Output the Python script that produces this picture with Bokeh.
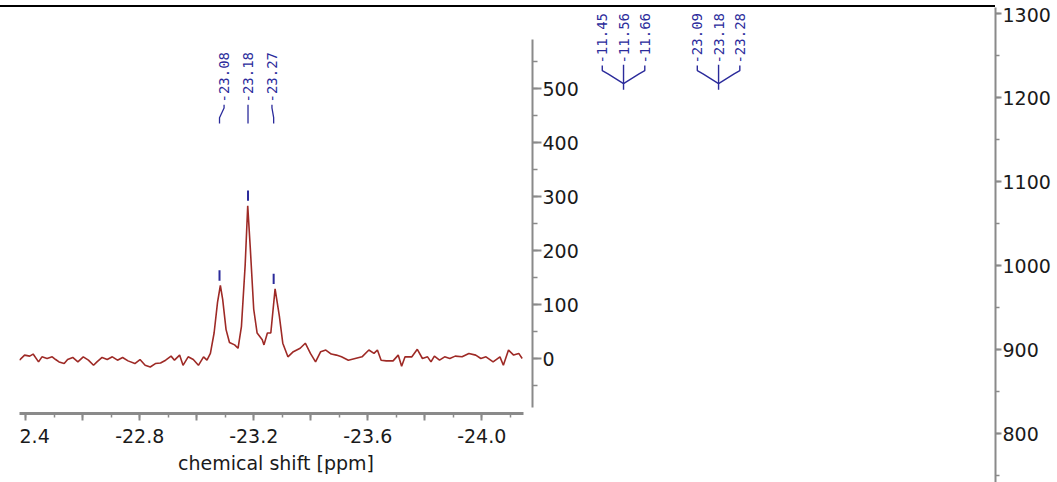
import numpy as np
from bokeh.plotting import figure
from bokeh.models import (Range1d, SingleIntervalTicker, CustomJSTickFormatter,
                          Div, Spacer)
from bokeh.layouts import row, column
from bokeh.core.properties import value
from bokeh.embed import file_html
from bokeh.resources import INLINE

# ---------------- data ----------------
ppm = [-22.378, -22.396, -22.414, -22.426, -22.445, -22.457, -22.475, -22.493,
       -22.505, -22.517, -22.535, -22.547, -22.565, -22.583, -22.602, -22.620,
       -22.638, -22.650, -22.668, -22.686, -22.704, -22.722, -22.740, -22.759,
       -22.783, -22.801, -22.819, -22.837, -22.855, -22.873, -22.891, -22.910,
       -22.922, -22.940, -22.952, -22.970, -22.988, -23.006, -23.024, -23.036,
       -23.048, -23.061, -23.073, -23.083, -23.091, -23.103, -23.115, -23.133,
       -23.145, -23.157, -23.170, -23.179, -23.188, -23.200, -23.212, -23.230,
       -23.236, -23.248, -23.260, -23.275, -23.290, -23.302, -23.320, -23.339,
       -23.363, -23.381, -23.399, -23.417, -23.435, -23.453, -23.472, -23.490,
       -23.508, -23.532, -23.556, -23.580, -23.604, -23.622, -23.634, -23.647,
       -23.665, -23.689, -23.707, -23.719, -23.731, -23.755, -23.774, -23.792,
       -23.810, -23.822, -23.834, -23.852, -23.870, -23.888, -23.907, -23.931,
       -23.955, -23.979, -23.997, -24.015, -24.040, -24.064, -24.076, -24.094,
       -24.112, -24.130, -24.142]
intensity = [-3.1, 6.3, 4.4, 8.2, -6.3, 3.1, 0.0, 3.1,
             -1.9, -6.3, -9.4, -1.9, 1.9, -6.3, 3.1, -3.1,
             -12.6, -6.3, 1.9, -1.9, 3.1, -3.1, 1.9, -4.4,
             -9.4, -1.9, -12.6, -15.7, -9.4, -8.2, -3.1, 4.4,
             -3.1, 6.3, -12.6, 3.1, -1.9, -12.6, 3.1, -3.1,
             9.4, 47.2, 103.8, 135.2, 110.1, 53.5, 29.6, 25.2,
             18.9, 59.7, 172.9, 283.0, 204.4, 91.2, 47.2, 34.6,
             25.2, 47.2, 47.2, 128.9, 78.6, 28.3, 3.1, 12.6,
             18.9, 28.3, 9.4, -6.3, 12.6, 15.7, 8.2, 6.3,
             3.1, -3.1, 0.0, 3.1, 15.7, 9.4, 15.7, -3.1,
             -4.4, -4.4, 6.3, -14.5, 3.1, 3.1, 17.0, 0.0,
             3.1, -6.3, 4.4, -3.1, 3.1, 0.0, 4.4, 3.1,
             9.4, 6.3, 0.0, 3.1, -6.3, 3.1, -12.6, 15.7,
             6.3, 9.4, 0.0]

peak_ppm = [-23.08, -23.18, -23.27]
peak_int = [135.2, 283.0, 128.9]
peak_labels = ["-23.08", "-23.18", "-23.27"]

mult_centers = [-11.56, -23.18]
mult_labels = [["-11.45", "-11.56", "-11.66"],
               ["-23.09", "-23.18", "-23.28"]]

# ---------------- styles ----------------
TRACE = "#9e2a26"
BLUE = "#2b2b9b"
AX = "#8a8a8a"
TXT = "#1a1a1a"
FONT = "DejaVu Sans"
LFONT = "DejaVu Sans Mono"
TICK_SIZE = "19px"
LABEL_SIZE = "14px"

# ---------------- left panel: zoomed spectrum ----------------
A = figure(width=566, height=475,
           x_range=Range1d(-22.3782, -24.1782), y_range=Range1d(-101.85, 650.0),
           y_axis_location="right", output_backend="svg", toolbar_location=None,
           min_border_left=0, min_border_right=53, min_border_top=0,
           min_border_bottom=69)
A.frame_align = False
A.grid.visible = False
A.outline_line_color = None
A.background_fill_color = "white"
A.border_fill_color = "white"

A.line(ppm, intensity, line_color=TRACE, line_width=1.6)

A.segment(x0=peak_ppm, y0=[v + 9 for v in peak_int],
          x1=peak_ppm, y1=[v + 28 for v in peak_int],
          line_color=BLUE, line_width=2)

spread = 0.084
lab_x = [peak_ppm[1] + spread, peak_ppm[1], peak_ppm[1] - spread]
A.multi_line(xs=[[lx, lx, px, px] for lx, px in zip(lab_x, peak_ppm)],
             ys=[[470, 464, 446, 435] for _ in lab_x],
             line_color=BLUE, line_width=1.3)
A.text(x=lab_x, y=[474] * 3, text=peak_labels, angle=np.pi / 2,
       text_align="left", text_baseline="middle",
       text_font=value(LFONT), text_font_size=LABEL_SIZE, text_color=BLUE)

xa = A.xaxis[0]
xa.ticker = SingleIntervalTicker(interval=0.2, num_minor_ticks=2)
xa.formatter = CustomJSTickFormatter(code="""
const k = Math.round(Math.abs(tick) * 10);
if (k === 224) { return '2.4'; }
return (k % 4 === 0) ? tick.toFixed(1) : '';
""")
xa.bounds = (-24.146, -22.378)
xa.axis_line_color = AX
xa.axis_line_width = 3
xa.major_tick_line_color = AX
xa.major_tick_line_width = 2
xa.major_tick_out = 7
xa.major_tick_in = 0
xa.minor_tick_line_color = AX
xa.minor_tick_line_width = 1.5
xa.minor_tick_out = 4
xa.minor_tick_in = 0
xa.major_label_text_font = FONT
xa.major_label_text_font_size = TICK_SIZE
xa.major_label_text_color = TXT
xa.major_label_standoff = 8
xa.axis_label = "chemical shift [ppm]"
xa.axis_label_text_font = FONT
xa.axis_label_text_font_size = TICK_SIZE
xa.axis_label_text_font_style = "normal"
xa.axis_label_text_color = TXT
xa.axis_label_standoff = 6

ya = A.yaxis[0]
ya.ticker = SingleIntervalTicker(interval=100, num_minor_ticks=2)
ya.bounds = (-91, 590)
ya.axis_line_color = AX
ya.axis_line_width = 2
ya.major_tick_line_color = AX
ya.major_tick_line_width = 2
ya.major_tick_out = 9
ya.major_tick_in = 0
ya.minor_tick_line_color = AX
ya.minor_tick_line_width = 1.5
ya.minor_tick_out = 5
ya.minor_tick_in = 0
ya.major_label_text_font = FONT
ya.major_label_text_font_size = TICK_SIZE
ya.major_label_text_color = TXT
ya.major_label_standoff = 1

# ---------------- right panel: multiplet overview ----------------
B = figure(width=472, height=475,
           x_range=Range1d(-6.91, -57.04), y_range=Range1d(741.7, 1307.6),
           x_axis_location=None, y_axis_location="right",
           output_backend="svg", toolbar_location=None,
           min_border_left=0, min_border_right=62, min_border_top=0,
           min_border_bottom=0)
B.frame_align = False
B.grid.visible = False
B.outline_line_color = None
B.background_fill_color = "white"
B.border_fill_color = "white"

mspread = 2.6
txs, tys, tlab, bxs, bys = [], [], [], [], []
for c, labs in zip(mult_centers, mult_labels):
    xs3 = [c + mspread, c, c - mspread]
    for x, t in zip(xs3, labs):
        txs.append(x)
        tys.append(1240.8)
        tlab.append(t)
    left, right = xs3[0], xs3[2]
    bxs += [[left, left, left - 0.7, c], [right, right, right + 0.7, c], [c, c]]
    bys += [[1238.5, 1232.5, 1228.5, 1217.0], [1238.5, 1232.5, 1228.5, 1217.0],
            [1239.5, 1209.5]]
B.multi_line(xs=bxs, ys=bys, line_color=BLUE, line_width=1.4)
B.text(x=txs, y=tys, text=tlab, angle=np.pi / 2, text_align="left",
       text_baseline="middle", text_font=value(LFONT),
       text_font_size=LABEL_SIZE, text_color=BLUE)

yb = B.yaxis[0]
yb.ticker = SingleIntervalTicker(interval=100, num_minor_ticks=2)
yb.axis_line_color = AX
yb.axis_line_width = 2
yb.major_tick_line_color = AX
yb.major_tick_line_width = 2
yb.major_tick_out = 6
yb.major_tick_in = 0
yb.minor_tick_line_color = AX
yb.minor_tick_line_width = 1.5
yb.minor_tick_out = 4
yb.minor_tick_in = 0
yb.major_label_text_font = FONT
yb.major_label_text_font_size = TICK_SIZE
yb.major_label_text_color = TXT
yb.major_label_standoff = 1

top = Div(text="", width=995, height=7, margin=(0, 0, 0, 0),
          styles={"border-bottom": "2px solid #000", "box-sizing": "border-box"})
gap = Spacer(width=19, height=475, margin=(0, 0, 0, 0))
layout = column(top, row(gap, A, B, spacing=0), spacing=0)

open("out.html", "w").write(file_html(layout, INLINE))
